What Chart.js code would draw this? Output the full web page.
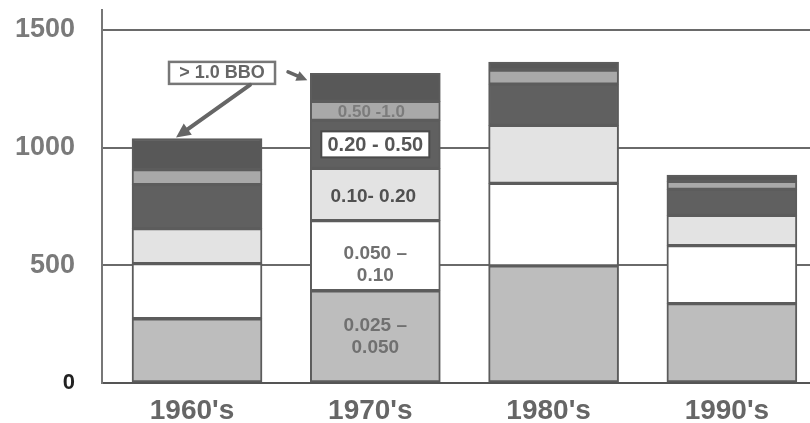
<!DOCTYPE html>
<html><head><meta charset="utf-8">
<script src="https://cdn.jsdelivr.net/npm/chart.js@4"></script>
<style>html,body{margin:0;padding:0;background:#fff;overflow:hidden;width:810px;height:423px}
#wrap{position:absolute;left:0;top:0;width:820px;height:423px}</style>
</head><body><div id="wrap"><canvas id="c"></canvas></div>
<script>
const categories = ["1960's", "1970's", "1980's", "1990's"];
const size0025to0050 = [273, 392, 498, 337];
const size0050to010 = [234, 298, 350, 247];
const size010to020 = [149, 222, 247, 128];
const size020to050 = [187, 204, 175, 111];
const size050to10 = [64, 81, 60, 34];
const sizeOver10 = [132, 119, 34, 26];
const yTicks = [0, 500, 1000, 1500];
const seriesNames = ["0.025 \u2013 0.050", "0.050 \u2013 0.10", "0.10- 0.20", "0.20 - 0.50", "0.50 -1.0", "> 1.0 BBO"];

const FONT = "'Liberation Sans', Arial, sans-serif";
const BORDER = '#5c5c5c';
const fills = ['#bdbdbd', '#ffffff', '#e3e3e3', '#606060', '#a9a9a9', '#585858'];
const allSeries = [size0025to0050, size0050to010, size010to020, size020to050, size050to10, sizeOver10];

function arrow(ctx, x1, y1, x2, y2, w, head) {
  const a = Math.atan2(y2 - y1, x2 - x1);
  ctx.save();
  ctx.strokeStyle = '#666'; ctx.fillStyle = '#666'; ctx.lineWidth = w; ctx.lineCap = 'round';
  ctx.beginPath(); ctx.moveTo(x1, y1);
  ctx.lineTo(x2 - Math.cos(a) * head * 0.8, y2 - Math.sin(a) * head * 0.8); ctx.stroke();
  ctx.beginPath();
  ctx.moveTo(x2, y2);
  ctx.lineTo(x2 - head * Math.cos(a - 0.45), y2 - head * Math.sin(a - 0.45));
  ctx.lineTo(x2 - head * Math.cos(a + 0.45), y2 - head * Math.sin(a + 0.45));
  ctx.closePath(); ctx.fill();
  ctx.restore();
}

const annot = {
  id: 'annot',
  afterDatasetsDraw(chart) {
    const ctx = chart.ctx;
    const ys = chart.scales.y;
    const el = (ds, i) => chart.getDatasetMeta(ds).data[i];
    const mid = (ds, i) => { const e = el(ds, i); return [e.x, (e.y + e.base) / 2]; };
    ctx.save();
    ctx.textAlign = 'center'; ctx.textBaseline = 'middle';
    let [x, y] = mid(0, 1);
    ctx.font = 'bold 19px ' + FONT; ctx.fillStyle = '#707070';
    ctx.fillText('0.025 \u2013', x, y - 11); ctx.fillText('0.050', x, y + 11);
    [x, y] = mid(1, 1);
    ctx.fillText('0.050 \u2013', x, y - 2); ctx.fillText('0.10', x, y + 20);
    [x, y] = mid(2, 1);
    ctx.fillStyle = '#505050';
    ctx.fillText('0.10- 0.20', x - 2, y + 2);
    [x, y] = mid(3, 1);
    ctx.fillStyle = '#fff'; ctx.strokeStyle = '#4a4a4a'; ctx.lineWidth = 2;
    ctx.fillRect(x - 54, y - 13, 108, 26); ctx.strokeRect(x - 54, y - 13, 108, 26);
    ctx.font = 'bold 20px ' + FONT;
    ctx.fillStyle = '#555'; ctx.fillText('0.20 - 0.50', x, y + 1);
    [x, y] = mid(4, 1);
    ctx.font = 'bold 17px ' + FONT; ctx.fillStyle = '#7c7c7c';
    ctx.fillText('0.50 -1.0', x - 4, y + 1);
    const b0 = el(5, 0), b1 = el(5, 1);
    const bx = b0.x + 25, by = ys.getPixelForValue(1322);
    ctx.fillStyle = '#fff'; ctx.strokeStyle = '#777'; ctx.lineWidth = 2.5;
    ctx.fillRect(bx - 53, by - 10, 106, 22); ctx.strokeRect(bx - 53, by - 10, 106, 22);
    ctx.font = 'bold 18px ' + FONT; ctx.fillStyle = '#666';
    ctx.fillText('> 1.0 BBO', bx, by + 1);
    arrow(ctx, bx + 28, by + 13, b0.x - b0.width / 2 + 44, b0.y - 1, 4, 16);
    arrow(ctx, bx + 66, by, b1.x - b1.width / 2 - 3, b1.y + 7, 3.5, 12);
    ctx.restore();
  }
};

new Chart(document.getElementById('c'), {
  type: 'bar',
  data: {
    datasets: allSeries.map((d, i) => ({
      label: seriesNames[i], data: d.map((v, k) => ({ x: k, y: v })), backgroundColor: fills[i],
      borderColor: BORDER, borderWidth: 2, borderSkipped: false, barThickness: 130
    }))
  },
  options: {
    responsive: true, maintainAspectRatio: false, animation: false, devicePixelRatio: 1,
    layout: { padding: { top: 10, right: 2, left: 0, bottom: 0 } },
    plugins: { legend: { display: false }, tooltip: { enabled: false } },
    scales: {
      x: {
        type: 'linear', stacked: true, min: -0.533, max: 3.483, offset: false,
        afterBuildTicks(s) { s.ticks = categories.map((c, k) => ({ value: k })); },
        grid: { display: false },
        border: { color: '#555', width: 2 },
        ticks: {
          color: '#666', padding: 3, maxRotation: 0, labelOffset: -5,
          callback: v => categories[v],
          font: { family: FONT, size: 28, weight: 'bold' }
        },
        afterFit(s) { s.height = 40; s.paddingLeft = 0; s.paddingRight = 0; }
      },
      y: {
        stacked: true, min: 0, max: 1585,
        afterBuildTicks(s) { s.ticks = yTicks.map(v => ({ value: v })); },
        grid: { color: c => (c.tick && c.tick.value === 0) ? 'rgba(0,0,0,0)' : '#6a6a6a', lineWidth: 2, drawTicks: false },
        border: { color: '#777', width: 2 },
        ticks: {
          padding: 27,
          callback: v => String(v),
          color: c => (c.tick && c.tick.value === 0) ? '#222' : '#7a7a7a',
          font: c => ({ family: FONT, size: (c.tick && c.tick.value === 0) ? 22 : 27, weight: 'bold' })
        },
        afterFit(s) { s.width = 102; s.paddingTop = 0; s.paddingBottom = 0; }
      }
    }
  },
  plugins: [annot]
});
</script></body></html>
